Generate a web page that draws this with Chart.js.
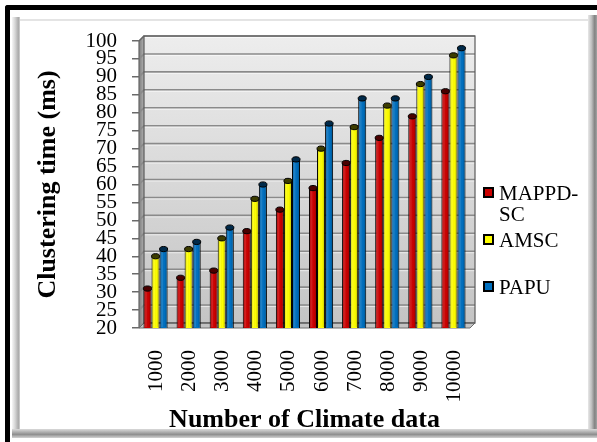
<!DOCTYPE html>
<html>
<head>
<meta charset="utf-8">
<script src="https://cdn.jsdelivr.net/npm/chart.js@4.4.1/dist/chart.umd.min.js"></script>
<style>
  html, body { margin: 0; padding: 0; background: #fff; width: 597px; height: 442px; overflow: hidden; }
  #wrap { position: relative; width: 597px; height: 442px; }
  .f { position: absolute; }
  #blk { left: 5px; top: 5px; width: 592px; height: 437px; border-left: 5px solid #000; border-top: 5px solid #000; border-top-left-radius: 3px; box-sizing: border-box; }
  #bl { left: 12px; top: 17px; width: 8px; height: 413px; background: linear-gradient(to right, #f6f6f6, #d4d4d4 40%, #aaaaaa 80%, #d2d2d2); }
  #bt { left: 20px; top: 19px; width: 568px; height: 2px; background: #e4e4e4; }
  #br { left: 588px; top: 15px; width: 9px; height: 423px; background: linear-gradient(to right, #e8e8e8, #bebebe 40%, #828282 75%, #a4a4a4); }
  #bb { left: 12px; top: 429px; width: 585px; height: 9px; background: linear-gradient(to bottom, #dadada, #a2a2a2 45%, #8e8e8e 60%, #d2d2d2); }
  canvas { position: absolute; left: 0; top: 0; }
</style>
</head>
<body>
<div id="wrap">
  <div class="f" id="blk"></div>
  <div class="f" id="bl"></div>
  <div class="f" id="bt"></div>
  <div class="f" id="br"></div>
  <div class="f" id="bb"></div>
  <canvas id="c" width="597" height="442"></canvas>
</div>
<script>
// Number of climate records on the x axis
const categories = ['1000', '2000', '3000', '4000', '5000', '6000', '7000', '8000', '9000', '10000'];

// Clustering time (ms) per method
const mappdsc = [31, 34, 36, 47, 53, 59, 66, 73, 79, 86];
const amsc    = [40, 42, 45, 56, 61, 70, 76, 82, 88, 96];
const papu    = [42, 44, 48, 60, 67, 77, 84, 84, 90, 98];

const seriesNames = ['MAPPD-SC', 'AMSC', 'PAPU'];

// Value axis range and step
const yMin = 20, yMax = 100, yStep = 5;

const FONT = '"Liberation Serif", "Times New Roman", serif';
const DEPTH = 5;

// Back wall, side wall, floor and gridlines of the 3-D plot box
const wallPlugin = {
  id: 'wall3d',
  beforeDatasetsDraw(chart) {
    const { ctx, chartArea: a, scales: { y } } = chart;
    const d = DEPTH;
    ctx.save();
    // side wall
    let g = ctx.createLinearGradient(a.left, 0, a.left + d, 0);
    g.addColorStop(0, '#7e7e7e');
    g.addColorStop(1, '#b0b0b0');
    ctx.fillStyle = g;
    ctx.beginPath();
    ctx.moveTo(a.left, a.top);
    ctx.lineTo(a.left + d, a.top - d);
    ctx.lineTo(a.left + d, a.bottom - d);
    ctx.lineTo(a.left, a.bottom);
    ctx.closePath();
    ctx.fill();
    // back wall
    g = ctx.createLinearGradient(0, a.top - d, 0, a.bottom - d);
    g.addColorStop(0, '#ededed');
    g.addColorStop(1, '#c4c4c4');
    ctx.fillStyle = g;
    ctx.fillRect(a.left + d, a.top - d, a.right - a.left, a.bottom - a.top);
    // gridlines
    y.ticks.forEach(t => {
      const py = y.getPixelForValue(t.value);
      ctx.strokeStyle = '#8a8a8a';
      ctx.lineWidth = 1.6;
      ctx.beginPath();
      ctx.moveTo(a.left, py);
      ctx.lineTo(a.left + d, py - d);
      ctx.lineTo(a.right + d, py - d);
      ctx.stroke();
      ctx.strokeStyle = 'rgba(255,255,255,0.6)';
      ctx.lineWidth = 1;
      ctx.beginPath();
      ctx.moveTo(a.left + d, py - d + 1.5);
      ctx.lineTo(a.right + d, py - d + 1.5);
      ctx.stroke();
    });
    // floor
    ctx.fillStyle = '#c2c2c2';
    ctx.beginPath();
    ctx.moveTo(a.left, a.bottom);
    ctx.lineTo(a.right, a.bottom);
    ctx.lineTo(a.right + d, a.bottom - d);
    ctx.lineTo(a.left + d, a.bottom - d);
    ctx.closePath();
    ctx.fill();
    ctx.strokeStyle = '#6e6e6e';
    ctx.lineWidth = 1;
    ctx.stroke();
    // outlines
    ctx.strokeStyle = '#5a5a5a';
    ctx.lineWidth = 1.2;
    ctx.strokeRect(a.left + d, a.top - d, a.right - a.left, a.bottom - a.top);
    ctx.strokeStyle = '#666';
    ctx.beginPath();
    ctx.moveTo(a.left, a.top);
    ctx.lineTo(a.left + d, a.top - d);
    ctx.moveTo(a.left, a.top);
    ctx.lineTo(a.left, a.bottom);
    ctx.stroke();
    ctx.restore();
  }
};

// Cylinder shading and dark top caps on every bar
const capPlugin = {
  id: 'caps',
  afterDatasetsDraw(chart) {
    const { ctx, chartArea: a } = chart;
    ctx.save();
    chart.data.datasets.forEach((ds, i) => {
      const meta = chart.getDatasetMeta(i);
      meta.data.forEach(el => {
        const { x, y, width, base } = el.getProps(['x', 'y', 'width', 'base'], true);
        const l = x - width / 2;
        const bottom = Math.min(base, a.bottom);
        const sh = ctx.createLinearGradient(l, 0, l + width, 0);
        sh.addColorStop(0, 'rgba(0,0,0,0.22)');
        sh.addColorStop(0.35, 'rgba(255,255,255,0.12)');
        sh.addColorStop(0.6, 'rgba(0,0,0,0)');
        sh.addColorStop(1, 'rgba(0,0,0,0.28)');
        ctx.fillStyle = sh;
        ctx.fillRect(l + 1, y, width - 2, bottom - y - 1);
        ctx.beginPath();
        ctx.ellipse(x, y, width / 2, 2.6, 0, 0, Math.PI * 2);
        ctx.fillStyle = ds.capColor;
        ctx.fill();
        ctx.strokeStyle = '#000';
        ctx.lineWidth = 1;
        ctx.stroke();
      });
    });
    ctx.restore();
  }
};

// Vertical category labels hanging below the floor, one per x tick
const xLabelPlugin = {
  id: 'xLabels',
  afterDraw(chart, args, opts) {
    const { ctx, scales: { x } } = chart;
    ctx.save();
    ctx.font = '21px ' + FONT;
    ctx.fillStyle = '#000';
    ctx.textAlign = 'right';
    ctx.textBaseline = 'middle';
    x.ticks.forEach((t, i) => {
      const px = x.getPixelForTick(i);
      ctx.save();
      ctx.translate(px + 1, opts.top);
      ctx.rotate(-Math.PI / 2);
      ctx.fillText(x.getLabelForValue(t.value), 0, 0);
      ctx.restore();
    });
    ctx.restore();
  }
};

// Legend on the right, wrapping long names after the hyphen
const legendPlugin = {
  id: 'sideLegend',
  afterDraw(chart, args, opts) {
    const { ctx } = chart;
    ctx.save();
    ctx.font = '21px ' + FONT;
    ctx.textBaseline = 'middle';
    ctx.textAlign = 'left';
    chart.data.datasets.forEach((ds, i) => {
      const cy = opts.top + i * opts.step;
      let lines = [ds.label];
      if (ctx.measureText(ds.label).width > opts.maxWidth && ds.label.includes('-')) {
        const k = ds.label.indexOf('-') + 1;
        lines = [ds.label.slice(0, k), ds.label.slice(k)];
      }
      ctx.fillStyle = ds.backgroundColor;
      ctx.fillRect(opts.x + 1, cy - 5, 9, 9);
      ctx.strokeStyle = '#000';
      ctx.lineWidth = 2;
      ctx.strokeRect(opts.x + 1, cy - 5, 9, 9);
      ctx.fillStyle = '#000';
      lines.forEach((t, j) => ctx.fillText(t, opts.x + 16, cy + 1 + j * opts.lineGap));
    });
    ctx.restore();
  }
};

const mk = (label, data, color, cap) => ({
  label, data,
  backgroundColor: color,
  borderColor: '#000',
  borderWidth: 1,
  borderSkipped: false,
  capColor: cap,
  categoryPercentage: 0.73,
  barPercentage: 1.0
});

new Chart(document.getElementById('c'), {
  type: 'bar',
  data: {
    labels: categories,
    datasets: [
      mk(seriesNames[0], mappdsc, '#cc0000', '#4a0000'),
      mk(seriesNames[1], amsc, '#ffff00', '#3c3c00'),
      mk(seriesNames[2], papu, '#0070c0', '#002a4a')
    ]
  },
  options: {
    responsive: false,
    devicePixelRatio: 1,
    animation: false,
    layout: { padding: { left: 10, right: 127, top: 41, bottom: 6 } },
    plugins: {
      legend: { display: false },
      tooltip: { enabled: false },
      sideLegend: { x: 483, top: 193, step: 47, lineGap: 21, maxWidth: 86 },
      xLabels: { top: 350 }
    },
    scales: {
      x: {
        grid: { display: false, drawTicks: false },
        border: { display: false },
        ticks: { display: false, autoSkip: false },
        title: {
          display: true,
          text: 'Number of Climate data',
          color: '#000',
          font: { family: FONT, size: 26, weight: 'bold' },
          padding: { top: 0, bottom: 0 }
        },
        afterFit(s) { s.height = 108; }
      },
      y: {
        min: yMin, max: yMax,
        grid: { display: true, drawOnChartArea: false, drawTicks: true, tickLength: 7, color: '#6a6a6a', lineWidth: 1.5 },
        border: { display: false },
        ticks: {
          stepSize: yStep,
          autoSkip: false,
          padding: 15,
          color: '#000',
          font: { family: FONT, size: 21 }
        },
        title: {
          display: true,
          text: 'Clustering time (ms)',
          color: '#000',
          font: { family: FONT, size: 26, weight: 'bold' },
          padding: { top: 23, bottom: 0 }
        },
        afterFit(s) { s.width = 129; }
      }
    }
  },
  plugins: [wallPlugin, capPlugin, xLabelPlugin, legendPlugin]
});
</script>
</body>
</html>
